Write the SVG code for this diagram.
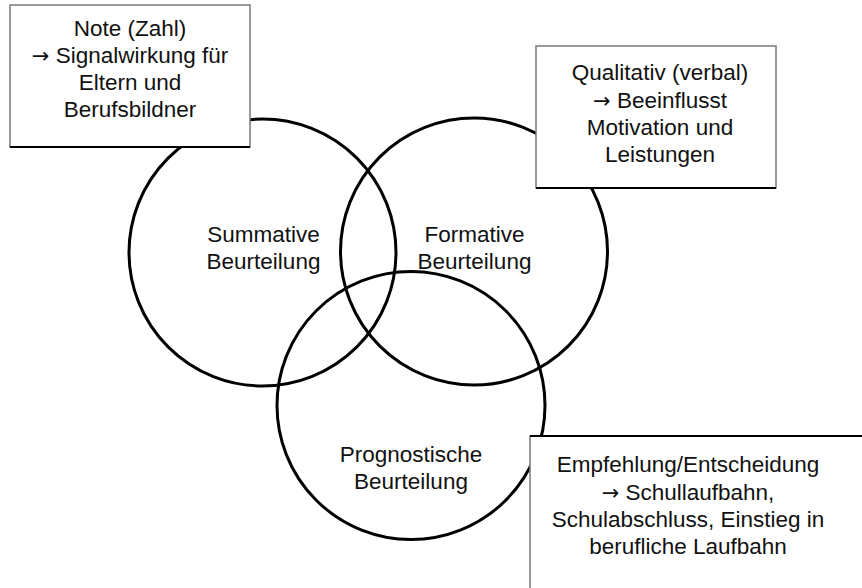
<svg xmlns="http://www.w3.org/2000/svg" width="862" height="588" viewBox="0 0 862 588">
<style>
.c{fill:none;stroke:#000;stroke-width:3}
.b{fill:#fff;stroke:#7a7a7a;stroke-width:1.5}
.bl{stroke:#000;stroke-width:2}
text{font-family:"Liberation Sans",Arial,sans-serif;font-size:22.5px;fill:#111;text-anchor:middle}
.ar{font-family:"DejaVu Sans",sans-serif;font-size:21px}
</style>
<rect width="862" height="588" fill="#fff"/>
<g id="connectors"></g>
<g id="summative">
<circle class="c" cx="262.5" cy="252.5" r="133.5"/>
<text x="263.5" y="242">Summative</text>
<text x="263.5" y="269">Beurteilung</text>
</g>
<g id="formative">
<circle class="c" cx="474" cy="251.5" r="133.5"/>
<text x="474.5" y="242">Formative</text>
<text x="474.5" y="269">Beurteilung</text>
</g>
<g id="prognostische">
<circle class="c" cx="411" cy="405.5" r="134"/>
<text x="411" y="462">Prognostische</text>
<text x="411" y="489">Beurteilung</text>
</g>
<g id="note-box">
<rect class="b" x="10" y="5" width="240" height="142"/>
<line class="bl" x1="10" y1="147" x2="250" y2="147"/>
<text x="130" y="35.5">Note (Zahl)</text>
<text x="130" y="63"><tspan class="ar">→</tspan> Signalwirkung für</text>
<text x="130" y="90">Eltern und</text>
<text x="130" y="117">Berufsbildner</text>
</g>
<g id="qualitativ-box">
<rect class="b" x="536" y="46" width="240" height="142"/>
<line class="bl" x1="536" y1="188" x2="776" y2="188"/>
<text x="660" y="80">Qualitativ (verbal)</text>
<text x="660" y="108"><tspan class="ar">→</tspan> Beeinflusst</text>
<text x="660" y="135">Motivation und</text>
<text x="660" y="162">Leistungen</text>
</g>
<g id="empfehlung-box">
<rect class="b" x="530" y="436" width="345" height="170"/>
<line class="bl" x1="530" y1="436" x2="862" y2="436"/>
<text x="688" y="472">Empfehlung/Entscheidung</text>
<text x="688" y="500"><tspan class="ar">→</tspan> Schullaufbahn,</text>
<text x="688" y="527">Schulabschluss, Einstieg in</text>
<text x="688" y="554">berufliche Laufbahn</text>
</g>
</svg>
